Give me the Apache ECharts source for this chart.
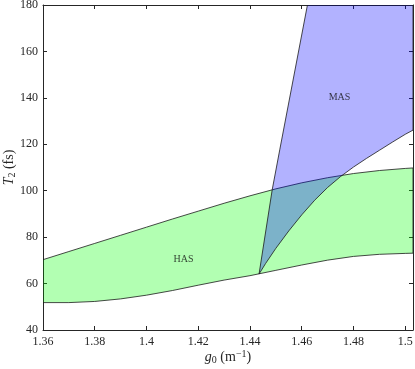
<!DOCTYPE html>
<html>
<head>
<meta charset="utf-8">
<script src="https://cdn.jsdelivr.net/npm/echarts@6/dist/echarts.min.js"></script>
<style>
html, body { margin: 0; padding: 0; background: #fff; }
#chart { width: 415px; height: 369px; }
</style>
</head>
<body>
<div id="chart"></div>
<script>
var X_MIN = 1.36, X_MAX = 1.503;
var Y_MIN = 40, Y_MAX = 180;

// HAS band (upper and lower boundaries)
var hasX     = [1.36, 1.37, 1.38, 1.39, 1.40, 1.41, 1.42, 1.43, 1.44, 1.45, 1.46, 1.47, 1.48, 1.49, 1.50, 1.503];
var hasUpper = [70.3, 73.8, 77.3, 80.8, 84.3, 87.8, 91.2, 94.6, 97.8, 100.8, 103.4, 105.6, 107.4, 108.7, 109.6, 109.8];
var hasLower = [51.8, 51.8, 52.3, 53.4, 55.0, 57.0, 59.3, 61.5, 63.4, 65.7, 68.0, 70.1, 71.7, 72.6, 73.0, 73.1];

// MAS region: left edge (bottom -> top) and lower curve (cusp -> right)
var masLeftX = [1.4435, 1.4486, 1.4515, 1.4622];
var masLeftY = [64.1, 100.5, 117.6, 180];
var masLowX  = [1.4435, 1.446, 1.450, 1.455, 1.460, 1.465, 1.470, 1.475, 1.480, 1.485, 1.490, 1.495, 1.500, 1.503];
var masLowY  = [64.1, 68.6, 75.2, 82.7, 89.6, 95.9, 101.4, 106.1, 110.2, 113.9, 117.4, 120.9, 124.3, 126.1];

// region labels
var regionNames  = ['HAS', 'MAS'];
var regionLabelX = [1.4143, 1.4746];
var regionLabelY = [70.3, 140.2];

var FONT = 'Liberation Serif';
var AXIS_COL = '#262626';

// polygon outlines built from the arrays above
var hasPolyX = hasX.concat(hasX.slice().reverse());
var hasPolyY = hasUpper.concat(hasLower.slice().reverse());

var masPolyX = masLeftX.concat([X_MAX]).concat(masLowX.slice().reverse());
var masPolyY = masLeftY.concat([Y_MAX]).concat(masLowY.slice().reverse());

function polygonItem(xs, ys, fill) {
  return function (params, api) {
    var pts = xs.map(function (x, i) { return api.coord([x, ys[i]]); });
    return {
      type: 'polygon',
      shape: { points: pts },
      style: { fill: fill, stroke: '#1a1a1a', lineWidth: 0.8 }
    };
  };
}

function xAxisOpt(pos, showLabel) {
  return {
    type: 'value', position: pos,
    min: X_MIN, max: X_MAX, interval: 0.02,
    axisLine: { show: true, onZero: false, lineStyle: { color: AXIS_COL, width: 1 } },
    axisTick: { show: true, inside: true, length: 4, lineStyle: { color: AXIS_COL } },
    axisLabel: { show: showLabel, showMaxLabel: false, margin: 6, color: AXIS_COL, fontFamily: FONT, fontSize: 12 },
    splitLine: { show: false }
  };
}

function yAxisOpt(pos, showLabel) {
  return {
    type: 'value', position: pos,
    min: Y_MIN, max: Y_MAX, interval: 20,
    axisLine: { show: true, onZero: false, lineStyle: { color: AXIS_COL, width: 1 } },
    axisTick: { show: true, inside: true, length: 4, lineStyle: { color: AXIS_COL } },
    axisLabel: { show: showLabel, margin: 5, color: AXIS_COL, fontFamily: FONT, fontSize: 12 },
    splitLine: { show: false }
  };
}

var xBottom = xAxisOpt('bottom', true);
xBottom.name = '{i|g}{sub|0} (m{sup|\u22121})';
xBottom.nameLocation = 'middle';
xBottom.nameGap = 19;
xBottom.nameMoveOverlap = false;
xBottom.nameTextStyle = {
  color: AXIS_COL, fontFamily: FONT, fontSize: 14,
  rich: {
    i: { fontFamily: FONT, fontStyle: 'italic', fontSize: 14, color: AXIS_COL },
    sub: { fontFamily: FONT, fontSize: 10, color: AXIS_COL, verticalAlign: 'bottom', padding: [6, 0, 0, 0] },
    sup: { fontFamily: FONT, fontSize: 10, color: AXIS_COL, verticalAlign: 'top', padding: [0, 0, 6, 0] }
  }
};

var yLeft = yAxisOpt('left', true);
yLeft.name = '{i|T}{sub|2} (fs)';
yLeft.nameLocation = 'middle';
yLeft.nameGap = 26;
yLeft.nameMoveOverlap = false;
yLeft.nameTextStyle = {
  color: AXIS_COL, fontFamily: FONT, fontSize: 14,
  rich: {
    i: { fontFamily: FONT, fontStyle: 'italic', fontSize: 14, color: AXIS_COL },
    sub: { fontFamily: FONT, fontSize: 10, color: AXIS_COL, verticalAlign: 'bottom', padding: [6, 0, 0, 0] }
  }
};

var option = {
  animation: false,
  backgroundColor: '#fff',
  grid: { left: 43, right: 2, top: 5, bottom: 39, containLabel: false, outerBoundsMode: 'none' },
  xAxis: [xBottom, xAxisOpt('top', false)],
  yAxis: [yLeft, yAxisOpt('right', false)],
  series: [
    {
      type: 'custom', silent: true, clip: true,
      xAxisIndex: 0, yAxisIndex: 0,
      data: [[hasX[0], hasUpper[0]]],
      renderItem: polygonItem(hasPolyX, hasPolyY, 'rgba(0,255,0,0.3)'),
      z: 2
    },
    {
      type: 'custom', silent: true, clip: true,
      xAxisIndex: 0, yAxisIndex: 0,
      data: [[masLeftX[0], masLeftY[0]]],
      renderItem: polygonItem(masPolyX, masPolyY, 'rgba(0,0,255,0.3)'),
      z: 3
    },
    {
      type: 'scatter', silent: true,
      xAxisIndex: 0, yAxisIndex: 0,
      symbolSize: 0,
      data: regionNames.map(function (n, i) { return [regionLabelX[i], regionLabelY[i], n]; }),
      label: {
        show: true, position: 'inside',
        formatter: function (p) { return p.value[2]; },
        color: '#111', fontFamily: FONT, fontSize: 10
      },
      z: 5
    }
  ]
};

var myChart = echarts.init(document.getElementById('chart'));
myChart.setOption(option);
</script>
</body>
</html>
